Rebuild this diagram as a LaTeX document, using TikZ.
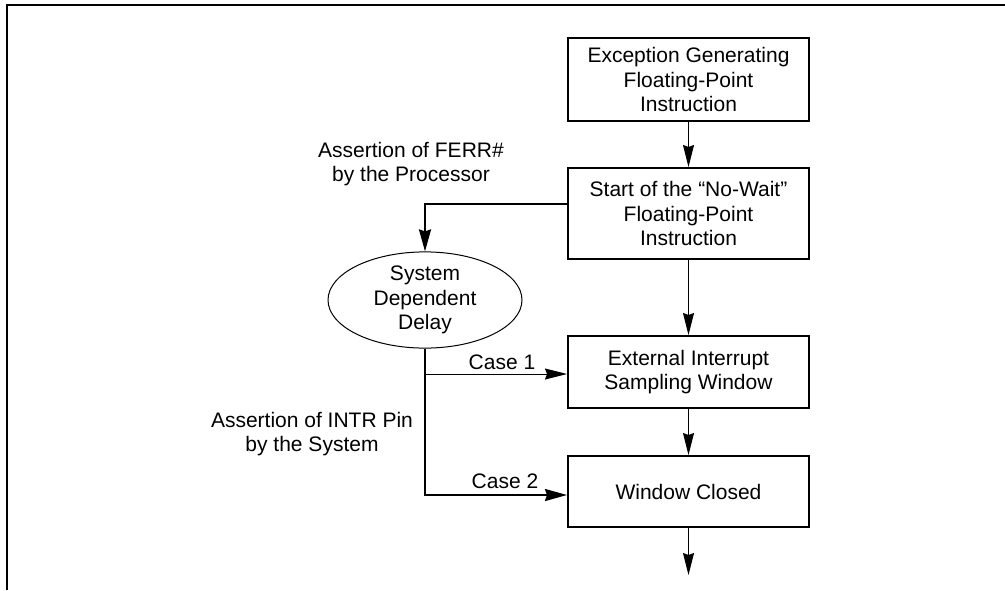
\documentclass[tikz,border=0pt]{standalone}
\usepackage{fontspec}
\setmainfont{Liberation Sans}
\usetikzlibrary{arrows.meta,shapes.geometric}
\begin{document}
\begin{tikzpicture}[x=1pt,y=-1pt,
  font=\fontsize{21}{24.5}\selectfont,
  box/.style={draw,line width=2pt,minimum width=241pt,inner sep=0pt,align=center},
  oval/.style={draw,ellipse,line width=1pt,minimum width=194pt,minimum height=96pt,inner sep=0pt,align=center},
  thin arrow/.style={line width=1pt,-{Stealth[length=22pt,width=11pt,inset=2pt]}},
  thick arrow/.style={line width=2pt,-{Stealth[length=22pt,width=12pt,inset=2pt]}},
  lbl/.style={align=center,inner sep=0pt}]
\useasboundingbox (0,0) rectangle (1005,590);
\draw[line width=2pt] (1005,5) -- (7,5) -- (7,590);
\node[box,minimum height=83pt] (b1) at (688.5,79.5) {Exception Generating\\Floating-Point\\Instruction};
\node[box,minimum height=91pt] (b2) at (688.5,213.5) {Start of the “No-Wait”\\Floating-Point\\Instruction};
\node[box,minimum height=72pt] (b3) at (688.5,372) {External Interrupt\\Sampling Window};
\node[box,minimum height=71pt] (b4) at (688.5,491.5) {Window Closed};
\node[oval] (e) at (425,300) {System\\Dependent\\Delay};
\coordinate (out) at (688.5,575);
\coordinate (c1in) at ([yshift=-2pt]b3.west);
\draw[thin arrow] (b1) -- (b2);
\draw[thin arrow] (b2) -- (b3);
\draw[thin arrow] (b3) -- (b4);
\draw[thin arrow] (b4) -- (out);
\draw[thick arrow] ([yshift=9.5pt]b2.west) -| (e.north);
\draw[thick arrow] (e.south) |- ([yshift=-3.5pt]b4.west);
\draw[thin arrow] (e.south |- c1in) -- (c1in);
\node[lbl] (c1) at (502,362) {Case 1};
\node[lbl] (c2) at (505,481) {Case 2};
\node[lbl] (ferr) at (411,164) {Assertion of FERR\#\\by the Processor};
\node[lbl] (intr) at (312,434) {Assertion of INTR Pin\\by the System};
\end{tikzpicture}
\end{document}
